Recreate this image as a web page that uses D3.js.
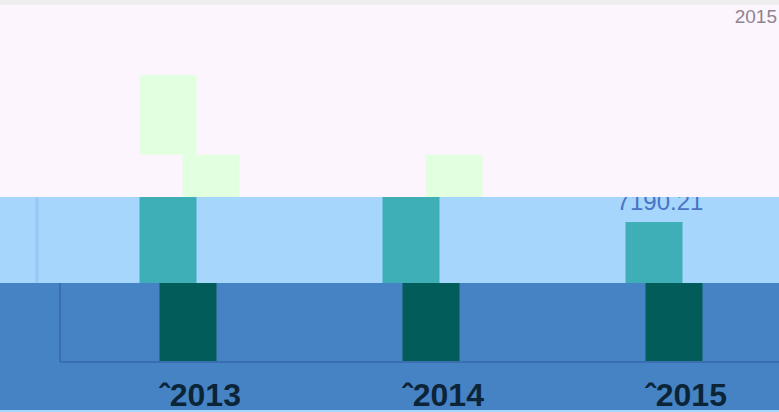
<!DOCTYPE html>
<html>
<head>
<meta charset="utf-8">
<script src="https://cdn.jsdelivr.net/npm/d3@7"></script>
<style>
  body { margin: 0; background: #eeeeee; }
  svg { display: block; font-family: "Liberation Sans", Arial, sans-serif; }
</style>
</head>
<body>
<div id="chart"></div>
<script>
// data
const years = ['2013', '2014', '2015']
const greenHigh = [63.5, 0, 0]        // upper light green pieces (top band, % of band)
const greenLow = [22, 22, 0]          // lower light green pieces
const tealValues = [12500, 12000, 7190.21]
const darkValues = [9000, 9000, 9000]
const tealLabel = ['', '', '7190.21']
const cornerLabel = '2015'

const width = 779
const height = 412

const svg = d3.select('#chart')
  .append('svg')
  .attr('width', width)
  .attr('height', height)

// shared category scale (centers of teal bars)
const x = d3.scaleBand()
  .domain(years)
  .range([46.5, 775.5])
const barW = 57
const cx = d => x(d) + x.bandwidth() / 2

// bands: top, middle, bottom
const bands = [
  { y0: 5, y1: 197, fill: '#fdf5fd' },
  { y0: 197, y1: 283, fill: '#a6d6fc' },
  { y0: 283, y1: 410, fill: '#4683c4' }
]

svg.append('rect').attr('width', width).attr('height', height).attr('fill', '#eeeeee')
svg.append('rect').attr('y', 410).attr('width', width).attr('height', 2).attr('fill', '#a6d6fc')

const defs = svg.append('defs')
bands.forEach((b, i) => {
  defs.append('clipPath').attr('id', 'clip' + i)
    .append('rect').attr('x', 0).attr('y', b.y0).attr('width', width).attr('height', b.y1 - b.y0)
  svg.append('rect')
    .attr('x', 0).attr('y', b.y0)
    .attr('width', width).attr('height', b.y1 - b.y0)
    .attr('fill', b.fill)
})

// ---- top band
const topBand = svg.append('g').attr('clip-path', 'url(#clip0)')
const yTop = d3.scaleLinear().domain([0, 100]).range([197, 5])

topBand.append('text')
  .attr('x', 777).attr('y', 23)
  .attr('text-anchor', 'end')
  .attr('font-size', 19)
  .attr('fill', '#8d848e')
  .text(cornerLabel)

topBand.append('g')
  .attr('fill', '#e2ffe0')
  .selectAll('rect')
  .data(years.filter((d, i) => greenLow[i] > 0))
  .join('rect')
    .attr('x', d => cx(d) + 43 - barW / 2)
    .attr('y', d => yTop(greenLow[years.indexOf(d)]))
    .attr('width', barW)
    .attr('height', d => yTop(0) - yTop(greenLow[years.indexOf(d)]))

topBand.append('g')
  .attr('fill', '#e2ffe0')
  .selectAll('rect')
  .data(years.filter((d, i) => greenHigh[i] > 0))
  .join('rect')
    .attr('x', d => cx(d) - barW / 2)
    .attr('y', d => yTop(greenHigh[years.indexOf(d)]))
    .attr('width', barW)
    .attr('height', d => yTop(greenLow[years.indexOf(d)]) - yTop(greenHigh[years.indexOf(d)]))

// ---- middle band
const midBand = svg.append('g').attr('clip-path', 'url(#clip1)')
const yMid = d3.scaleLinear().domain([0, 10140]).range([283, 197])

midBand.append('line')
  .attr('x1', 37).attr('x2', 37).attr('y1', 197).attr('y2', 283)
  .attr('stroke', '#98c6f6').attr('stroke-width', 3)

midBand.append('g')
  .attr('fill', '#3eaeb7')
  .selectAll('rect')
  .data(years)
  .join('rect')
    .attr('x', d => cx(d) - barW / 2)
    .attr('y', (d, i) => yMid(tealValues[i]))
    .attr('width', barW)
    .attr('height', (d, i) => yMid(0) - yMid(tealValues[i]))

midBand.append('g')
  .selectAll('text')
  .data(years)
  .join('text')
    .attr('x', d => cx(d) + 6)
    .attr('y', (d, i) => yMid(tealValues[i]) - 12)
    .attr('text-anchor', 'middle')
    .attr('font-size', 24)
    .attr('fill', '#4a74c4')
    .text((d, i) => tealLabel[i])

// ---- bottom band
const botBand = svg.append('g').attr('clip-path', 'url(#clip2)')
const yBot = d3.scaleLinear().domain([0, 8000]).range([362, 283])

botBand.append('g')
  .attr('fill', '#025c5a')
  .selectAll('rect')
  .data(years)
  .join('rect')
    .attr('x', d => cx(d) + 20 - barW / 2)
    .attr('y', (d, i) => yBot(darkValues[i]))
    .attr('width', barW)
    .attr('height', (d, i) => yBot(0) - yBot(darkValues[i]))

botBand.append('line')
  .attr('x1', 60).attr('x2', 60).attr('y1', 283).attr('y2', 362)
  .attr('stroke', '#3a6faf').attr('stroke-width', 2)
botBand.append('line')
  .attr('x1', 60).attr('x2', width).attr('y1', 362).attr('y2', 362)
  .attr('stroke', '#3a6faf').attr('stroke-width', 2)

const xAxis = g => g
  .attr('transform', 'translate(0, 362)')
  .call(d3.axisBottom(x).tickSize(0).tickFormat(d => '\u02c6' + d))
  .call(g => g.select('.domain').remove())
  .call(g => g.selectAll('text')
    .attr('dx', 32)
    .attr('dy', 41)
    .attr('font-size', 32)
    .attr('font-weight', 'bold')
    .attr('font-family', '"Liberation Sans", Arial, sans-serif')
    .attr('fill', '#0c2438'))

botBand.append('g').call(xAxis)
</script>
</body>
</html>
